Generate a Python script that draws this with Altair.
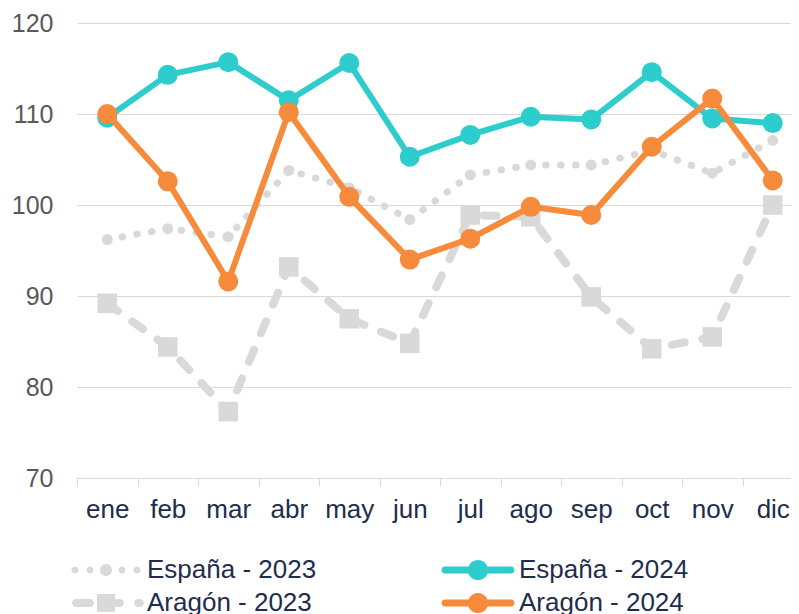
import altair as alt
import pandas as pd

months = ["ene", "feb", "mar", "abr", "may", "jun", "jul", "ago", "sep", "oct", "nov", "dic"]
series = ["España - 2023", "España - 2024", "Aragón - 2023", "Aragón - 2024"]
espana_2023 = [96.2, 97.4, 96.5, 103.8, 101.9, 98.4, 103.3, 104.4, 104.4, 106.0, 103.5, 107.1]
espana_2024 = [109.6, 114.3, 115.7, 111.5, 115.6, 105.3, 107.7, 109.7, 109.4, 114.6, 109.5, 109.0]
aragon_2023 = [89.2, 84.4, 77.3, 93.2, 87.5, 84.8, 98.9, 98.7, 89.9, 84.2, 85.5, 100.0]
aragon_2024 = [110.0, 102.6, 91.6, 110.2, 100.9, 94.0, 96.3, 99.8, 98.9, 106.4, 111.7, 102.7]
y_ticks = [70, 80, 90, 100, 110, 120]

series_colors = {
    "España - 2023": "#D9D9D9",
    "España - 2024": "#2DCCCD",
    "Aragón - 2023": "#D9D9D9",
    "Aragón - 2024": "#F68B3C",
}
values = {
    "España - 2023": espana_2023,
    "España - 2024": espana_2024,
    "Aragón - 2023": aragon_2023,
    "Aragón - 2024": aragon_2024,
}
# legend fills column by column
legend_order = ["España - 2023", "Aragón - 2023", "España - 2024", "Aragón - 2024"]

rows = []
for s in series:
    for m, v in zip(months, values[s]):
        rows.append({"month": m, "series": s, "value": v})
df = pd.DataFrame(rows)

GRID = "#D9D9D9"
NAVY = "#1F2D4D"
FONT = "Liberation Sans"

# legend symbol paths (unit = 11 px)
def capsule(x1, x2, t):
    return (f"M{x1},{-t} L{x2},{-t} A{t},{t} 0 0 1 {x2},{t} L{x1},{t} "
            f"A{t},{t} 0 0 1 {x1},{-t} Z ")

def circle(cx, r):
    return (f"M{cx - r},0 A{r},{r} 0 1 1 {cx + r},0 A{r},{r} 0 1 1 {cx - r},0 Z ")

def square(h):
    return f"M{-h},{-h} L{h},{-h} L{h},{h} L{-h},{h} Z "

p_dots = (circle(-2.82, 0.32) + circle(-1.45, 0.32) + circle(0, 0.55)
          + circle(1.45, 0.32) + circle(2.82, 0.32))
p_solid = capsule(-3.0, 3.0, 0.32) + circle(0, 0.92)
p_dash = (capsule(-2.73, -1.45, 0.36) + square(0.82) + capsule(0.82, 1.27, 0.36)
          + capsule(2.91, 3.09, 0.36))
series_paths = {
    "España - 2023": p_dots,
    "España - 2024": p_solid,
    "Aragón - 2023": p_dash,
    "Aragón - 2024": p_solid,
}

x_enc = alt.X(
    "month:N",
    sort=months,
    bandPosition=0.5,
    scale=alt.Scale(type="band", domain=months, range=[0, 726],
                    paddingInner=0, paddingOuter=0),
    axis=alt.Axis(
        title=None, labelAngle=0, tickBand="extent", grid=False,
        domainColor=GRID, tickColor=GRID, tickSize=8, labelPadding=10,
        labelFontSize=26, labelColor=NAVY, labelFont=FONT,
    ),
)
y_enc = alt.Y(
    "value:Q",
    scale=alt.Scale(domain=[70, 120], nice=False, zero=False),
    axis=alt.Axis(
        title=None, values=y_ticks, domain=False, ticks=False, grid=True,
        gridColor=GRID, gridWidth=1, labelPadding=24, labelFontSize=25,
        labelColor="#595959", labelFont=FONT,
    ),
)

styles = {
    "España - 2023": dict(line=dict(strokeWidth=7, strokeDash=[0.5, 14.5], strokeCap="round"),
                          point=dict(shape="circle", size=120)),
    "España - 2024": dict(line=dict(strokeWidth=6, strokeCap="round"),
                          point=dict(shape="circle", size=400)),
    "Aragón - 2023": dict(line=dict(strokeWidth=8, strokeDash=[13, 18], strokeCap="round"),
                          point=dict(shape="square", size=380)),
    "Aragón - 2024": dict(line=dict(strokeWidth=6, strokeCap="round"),
                          point=dict(shape="circle", size=400)),
}

base = alt.Chart(df)
layers = []
for s in series:
    c = series_colors[s]
    st = styles[s]
    sub = base.transform_filter(alt.datum.series == s)
    layers.append(sub.mark_line(color=c, strokeJoin="round", **st["line"]).encode(x=x_enc, y=y_enc))
    layers.append(sub.mark_point(color=c, filled=True, opacity=1, **st["point"]).encode(x=x_enc, y=y_enc))

legend_props = dict(
    title=None, orient="none", legendX=16, legendY=534, columns=2,
    columnPadding=124, rowPadding=7, symbolSize=484, symbolStrokeWidth=0,
    symbolOpacity=1, labelFontSize=26, labelColor=NAVY, labelFont=FONT,
    labelOffset=28, labelLimit=400, padding=0,
)
legend_layer = base.mark_point(filled=True, opacity=0).encode(
    x=x_enc, y=y_enc,
    color=alt.Color("series:N", sort=legend_order,
                    scale=alt.Scale(domain=legend_order,
                                    range=[series_colors[s] for s in legend_order]),
                    legend=alt.Legend(**legend_props)),
    shape=alt.Shape("series:N", sort=legend_order,
                    scale=alt.Scale(domain=legend_order,
                                    range=[series_paths[s] for s in legend_order]),
                    legend=alt.Legend(**legend_props)),
)
layers.append(legend_layer)

chart = alt.layer(*layers).properties(
    width=714, height=455,
    autosize=alt.AutoSizeParams(type="none"),
    padding={"left": 69, "top": 15, "right": 0, "bottom": 140},
).configure_view(stroke=None)

chart.save("out.html", embed_options={"renderer": "svg", "actions": False})
